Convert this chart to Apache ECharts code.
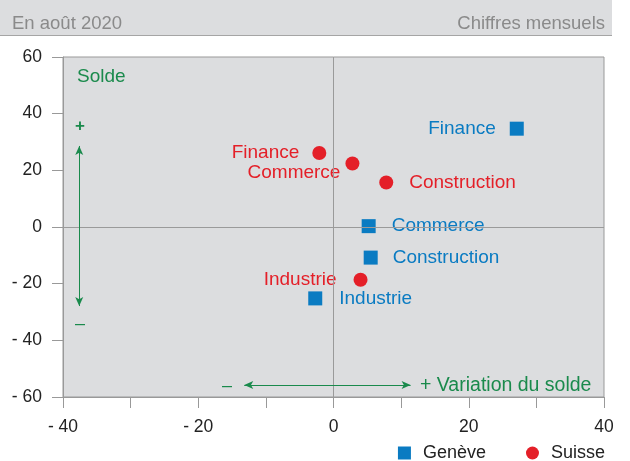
<!DOCTYPE html>
<html>
<head>
<meta charset="utf-8">
<script src="https://cdn.jsdelivr.net/npm/echarts@6/dist/echarts.min.js"></script>
<style>
  html, body { margin: 0; padding: 0; background: #fff; }
  #chart { width: 630px; height: 461px; }
</style>
</head>
<body>
<div id="chart"></div>
<script>
// données
const sectors = ['Finance', 'Commerce', 'Construction', 'Industrie']
const genevaX = [27.1, 5.2, 5.5, -2.7]
const genevaY = [34.7, 0.3, -10.8, -25.2]
const swissX = [-2.1, 2.8, 7.8, 4.0]
const swissY = [26.1, 22.4, 15.7, -18.6]
const xTicks = [-40, -20, 0, 20, 40]

const font = '"Liberation Sans", Arial, sans-serif'
const blue = '#0a7bc2'
const red = '#e41f28'
const green = '#1a8a4c'

// placement des étiquettes
const genevaLabels = {
  Finance: { position: 'left', distance: 14 },
  Commerce: { position: 'right', distance: 16 },
  Construction: { position: 'right', distance: 15 },
  Industrie: { position: 'right', distance: 17 },
}
const swissLabels = {
  Finance: { position: 'left', distance: 13 },
  Commerce: { position: 'left', distance: 5, offset: [0, 9] },
  Construction: { position: 'right', distance: 16 },
  Industrie: { position: 'left', distance: 17 },
}

const points = (xs, ys, labels) => sectors.map((s, i) => ({
  name: s,
  value: [xs[i], ys[i]],
  label: labels[s],
}))

const fmt = v => (v < 0 ? '- ' + Math.abs(v) : String(v))

const chart = echarts.init(document.getElementById('chart'))
chart.setOption({
  animation: false,
  textStyle: { fontFamily: font },
  grid: {
    left: 63, right: 26, top: 57, bottom: 64,
    show: true, backgroundColor: '#dcdddf', borderColor: '#999', borderWidth: 1,
  },
  xAxis: {
    type: 'value', min: -40, max: 40, interval: 10,
    axisLine: { show: true, onZero: false, lineStyle: { color: '#999' } },
    axisTick: { show: true, length: 11, lineStyle: { color: '#999' } },
    splitLine: { show: false },
    axisLabel: {
      margin: 21, fontSize: 17.5, color: '#222', fontFamily: font,
      formatter: v => (xTicks.includes(v) ? fmt(v) : ''),
    },
  },
  yAxis: {
    type: 'value', min: -60, max: 60, interval: 20,
    axisLine: { show: true, onZero: false, lineStyle: { color: '#999' } },
    axisTick: { show: true, length: 11, lineStyle: { color: '#999' } },
    splitLine: { show: false },
    axisLabel: { margin: 21, fontSize: 17.5, color: '#222', fontFamily: font, formatter: fmt },
  },
  legend: {
    right: 25, top: 444, padding: 0,
    itemWidth: 13, itemHeight: 13, itemGap: 40,
    textStyle: { fontSize: 18, color: '#222', fontFamily: font, padding: [0, 0, 0, 7] },
    data: [{ name: 'Genève', icon: 'rect' }, { name: 'Suisse', icon: 'circle' }],
  },
  series: [
    {
      name: 'Genève', type: 'scatter', symbol: 'rect', symbolSize: 14,
      itemStyle: { color: blue, opacity: 1 },
      label: { show: true, formatter: '{b}', color: blue, fontSize: 19, fontFamily: font },
      data: points(genevaX, genevaY, genevaLabels),
      markLine: {
        silent: true, symbol: 'none', animation: false,
        label: { show: false },
        lineStyle: { color: '#9a9a9a', width: 1, type: 'solid' },
        data: [{ xAxis: 0 }, { yAxis: 0 }],
      },
      z: 3,
    },
    {
      name: 'Suisse', type: 'scatter', symbol: 'circle', symbolSize: 14,
      itemStyle: { color: red, opacity: 1 },
      label: { show: true, formatter: '{b}', color: red, fontSize: 19, fontFamily: font },
      data: points(swissX, swissY, swissLabels),
      markLine: {
        silent: true, symbol: ['arrow', 'arrow'], symbolSize: [6, 9], animation: false,
        label: { show: false },
        lineStyle: { color: green, width: 1, type: 'solid' },
        data: [
          [{ coord: [-37.6, -27.9] }, { coord: [-37.6, 28.6] }],
          [{ coord: [-13.2, -55.8] }, { coord: [11.4, -55.8] }],
        ],
      },
      z: 3,
    },
  ],
  graphic: [
    { type: 'rect', shape: { x: 0, y: 0, width: 612, height: 35 }, style: { fill: '#dcdddf' }, silent: true },
    { type: 'line', shape: { x1: 0, y1: 35.5, x2: 612, y2: 35.5 }, style: { stroke: '#a5a5a5', lineWidth: 1 }, silent: true },
    { type: 'text', left: 12, top: 14, style: { text: 'En août 2020', fill: '#8a8a8a', font: '18.5px ' + font } },
    { type: 'text', right: 25, top: 14, style: { text: 'Chiffres mensuels', fill: '#8a8a8a', font: '18.5px ' + font } },
    { type: 'text', left: 77, top: 67, style: { text: 'Solde', fill: green, font: '19px ' + font } },
    { type: 'text', x: 80, y: 126, style: { text: '+', fill: green, font: 'bold 17px ' + font, align: 'center', verticalAlign: 'middle' } },
    { type: 'text', x: 80, y: 324, style: { text: '–', fill: green, font: '18px ' + font, align: 'center', verticalAlign: 'middle' } },
    { type: 'text', x: 227, y: 386, style: { text: '–', fill: green, font: '18px ' + font, align: 'center', verticalAlign: 'middle' } },
    { type: 'text', x: 420, y: 386, style: { text: '+ Variation du solde', fill: green, font: '19.5px ' + font, verticalAlign: 'middle' } },
  ],
})
</script>
</body>
</html>
